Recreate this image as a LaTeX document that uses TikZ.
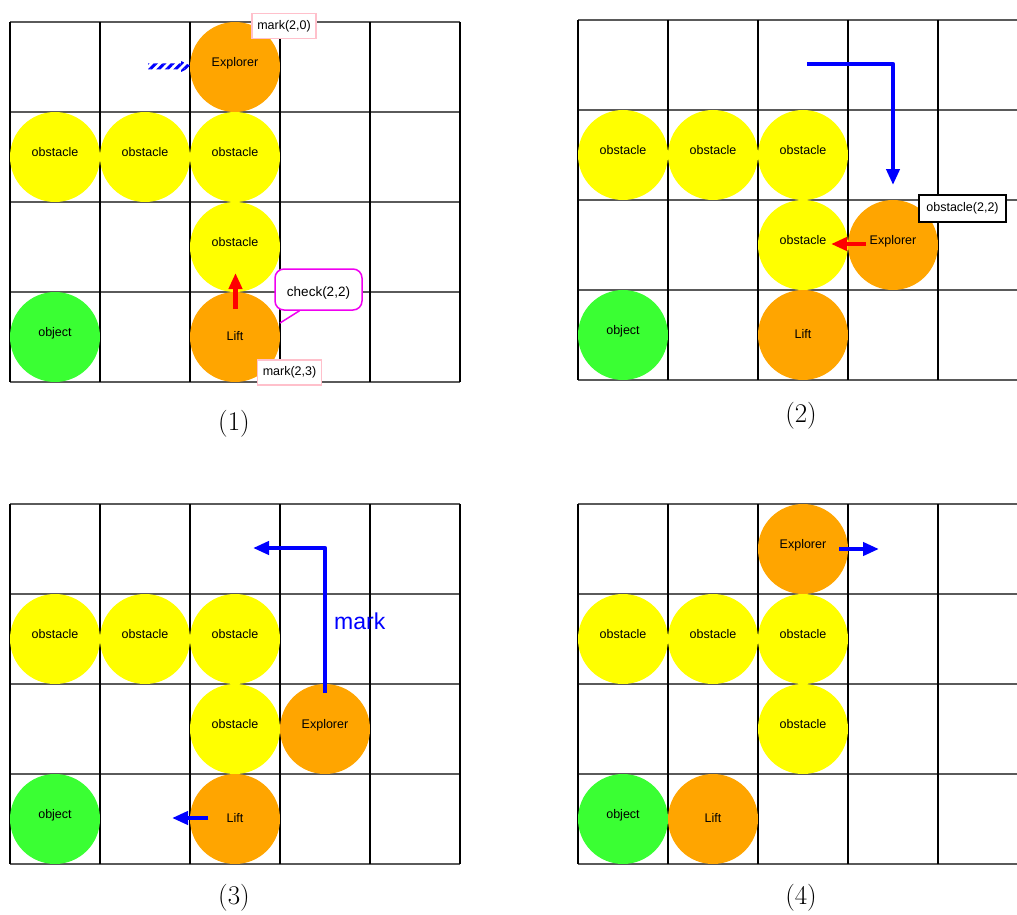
\documentclass[tikz,border=0pt]{standalone}
\usepackage{fontspec}
\newfontfamily\arialf{Liberation Sans}
\usetikzlibrary{arrows.meta,patterns.meta}
\definecolor{obstY}{RGB}{255,255,0}
\definecolor{agentO}{RGB}{255,165,0}
\definecolor{objG}{RGB}{58,255,51}
\definecolor{tagPink}{RGB}{255,192,203}
\definecolor{callM}{RGB}{240,0,240}
\definecolor{hline}{RGB}{90,90,90}

\begin{document}
\begin{tikzpicture}[x=1pt,y=-1pt,
  cell/.style={circle,minimum size=90pt,inner sep=0pt,
    text height=9pt,text depth=10pt,
    font=\arialf\fontsize{12.5}{14}\selectfont},
  obst/.style={cell,fill=obstY},
  agent/.style={cell,fill=agentO},
  liftc/.style={cell,fill=agentO,text height=9pt,text depth=3pt},
  objc/.style={cell,fill=objG},
  tagbox/.style={draw=tagPink,line width=1.5pt,fill=white,inner sep=0pt,
    minimum width=#1,minimum height=25pt,
    font=\arialf\fontsize{12.5}{14}\selectfont},
  msgbox/.style={draw=black,line width=1.5pt,fill=white,inner sep=0pt,
    minimum width=87pt,minimum height=27pt,
    font=\arialf\fontsize{12.5}{14}\selectfont},
  callbox/.style={draw=callM,line width=1.5pt,fill=white,rounded corners=9pt,
    minimum width=87pt,minimum height=41pt,inner sep=0pt,
    text height=13pt,text depth=0pt,
    font=\arialf\fontsize{13.5}{16}\selectfont},
  flow/.style={line width=4.5pt,line join=round,
    -{Triangle[length=16pt,width=13pt]}},
  caption/.style={font=\fontsize{27}{30}\selectfont,inner sep=0pt},
]
\useasboundingbox (0,0) rectangle (1017,915);
\clip (0,0) rectangle (1017,915);

% the four 5x4 boards
\foreach \ox/\oy in {10/22, 578/20, 10/504, 578/504}{
  \begin{scope}[shift={(\ox,\oy)}]
    \foreach \r in {0,90,...,360}
      \draw[hline,line width=1.4pt] (0,\r) -- (450,\r);
    \foreach \c in {0,90,...,450}
      \draw[black,line width=1.4pt] (\c,0) -- (\c,360);
  \end{scope}
}

% ---------- board (1)
\node[agent] (p1e) at (235,67) {Explorer};
\node[obst] (p1oa) at (55,157) {obstacle};
\node[obst] (p1ob) at (145,157) {obstacle};
\node[obst] (p1oc) at (235,157) {obstacle};
\node[obst] (p1od) at (235,247) {obstacle};
\node[objc] (p1g) at (55,337) {object};
\node[liftc] (p1l) at (235,337) {Lift};

\node[tagbox=64pt] (p1m0) at (284,26) {mark(2,0)};
\node[tagbox=64pt] (p1m3) at (289.5,372.5) {mark(2,3)};

% striped pointer left of the explorer
\path[pattern={Lines[angle=45,distance=6pt,line width=3pt]},pattern color=blue]
  (148,63.5) -- (181,63.5) -- (181,61) -- (192,66.5) -- (181,72)
  -- (181,69.5) -- (148,69.5) -- cycle;

\coordinate (p1rs) at (235.5,309);
\coordinate (p1rt) at (235.5,273);
\draw[flow,red] (p1rs) -- (p1rt);

\node[callbox] (p1cb) at (318.5,289.5) {check(2,2)};
\coordinate (p1ct) at (280,323);
\draw[callM,line width=1.5pt] ([xshift=-19pt]p1cb.south) -- (p1ct);

\node[caption] (c1) at (234,423.5) {(1)};

% ---------- board (2)
\node[obst] (p2oa) at (623,155) {obstacle};
\node[obst] (p2ob) at (713,155) {obstacle};
\node[obst] (p2oc) at (803,155) {obstacle};
\node[obst] (p2od) at (803,245) {obstacle};
\node[agent] (p2e) at (893,245) {Explorer};
\node[objc] (p2g) at (623,335) {object};
\node[liftc] (p2l) at (803,335) {Lift};

\coordinate (p2bs) at (807,64);
\coordinate (p2bt) at (893,185);
\draw[flow,blue] (p2bs) -| (p2bt);

\coordinate (p2rs) at (866,244);
\coordinate (p2rt) at (831,244);
\draw[flow,red] (p2rs) -- (p2rt);

\node[msgbox] (p2msg) at (962.5,208.5) {obstacle(2,2)};

\node[caption] (c2) at (801,416) {(2)};

% ---------- board (3)
\node[obst] (p3oa) at (55,639) {obstacle};
\node[obst] (p3ob) at (145,639) {obstacle};
\node[obst] (p3oc) at (235,639) {obstacle};
\node[obst] (p3od) at (235,729) {obstacle};
\node[agent] (p3e) at (325,729) {Explorer};
\node[objc] (p3g) at (55,819) {object};
\node[liftc] (p3l) at (235,819) {Lift};

\coordinate (p3bs) at (325,693);
\coordinate (p3bt) at (253,548);
\draw[flow,blue] (p3bs) |- (p3bt);
\node[blue,anchor=base west,inner sep=0pt,
  font=\arialf\fontsize{23}{26}\selectfont] (p3mk) at (334,629) {mark};

\coordinate (p3ls) at (208,818);
\coordinate (p3lt) at (172,818);
\draw[flow,blue] (p3ls) -- (p3lt);

\node[caption] (c3) at (234,898) {(3)};

% ---------- board (4)
\node[agent] (p4e) at (803,549) {Explorer};
\node[obst] (p4oa) at (623,639) {obstacle};
\node[obst] (p4ob) at (713,639) {obstacle};
\node[obst] (p4oc) at (803,639) {obstacle};
\node[obst] (p4od) at (803,729) {obstacle};
\node[objc] (p4g) at (623,819) {object};
\node[liftc] (p4l) at (713,819) {Lift};

\coordinate (p4bs) at (839,549);
\coordinate (p4bt) at (879,549);
\draw[flow,blue] (p4bs) -- (p4bt);

\node[caption] (c4) at (801,898) {(4)};
\end{tikzpicture}
\end{document}
